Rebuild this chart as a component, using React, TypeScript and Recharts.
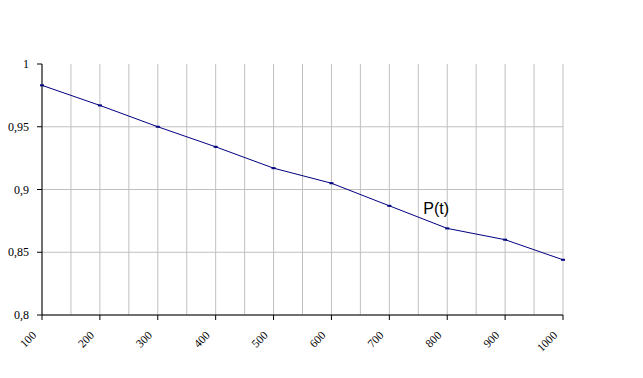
import {
  CartesianGrid,
  LabelList,
  Line,
  LineChart,
  XAxis,
  YAxis,
} from "recharts";

const times = [100, 200, 300, 400, 500, 600, 700, 800, 900, 1000];
const pValues = [0.983, 0.967, 0.95, 0.934, 0.917, 0.905, 0.887, 0.869, 0.86, 0.844];
const yTicks = [0.8, 0.85, 0.9, 0.95, 1];
const yGridTicks = [0.8, 0.85, 0.9, 0.95];
const gridTicks = [100, 150, 200, 250, 300, 350, 400, 450, 500, 550, 600, 650, 700, 750, 800, 850, 900, 950, 1000];
const seriesName = "P(t)";
const labelAt = 800;
const X_MIN = 100;
const X_MAX = 1000;
const Y_MIN = 0.8;
const Y_MAX = 1;

const data = times.map((t, i) => ({ t, p: pValues[i] }));

const SERIF = "Liberation Serif";
const NAVY = "#000080";

function XTick({ x, y, payload }: any) {
  const ax = x - 5;
  const ay = y + 14;
  return (
    <text
      x={ax}
      y={ay}
      transform={`rotate(-45, ${ax}, ${ay})`}
      textAnchor="end"
      fontFamily={SERIF}
      fontSize={11.5}
      fill="#000"
    >
      {payload.value}
    </text>
  );
}

function YTick({ x, y, payload }: any) {
  return (
    <text x={x} y={y + 4} textAnchor="end" fontFamily={SERIF} fontSize={12} fill="#000">
      {String(payload.value).replace(".", ",")}
    </text>
  );
}

function Dash({ cx, cy }: any) {
  return <rect x={cx - 2} y={cy - 1} width={4} height={2} fill={NAVY} />;
}

function NameLabel({ x, y, index }: any) {
  if (times[index] !== labelAt) return null;
  return (
    <text x={x - 24} y={y - 14} fontFamily="Liberation Sans" fontSize={16} fill="#000">
      {seriesName}
    </text>
  );
}

export default function App() {
  return (
    <div style={{ width: 643, height: 378, background: "#fff" }}>
      <style>{`body{margin:0}`}</style>
      <LineChart
        width={643}
        height={378}
        data={data}
        margin={{ top: 64, right: 80, left: 0, bottom: 0 }}
      >
        <CartesianGrid
          stroke="#c0c0c0"
          strokeWidth={1}
          verticalCoordinatesGenerator={({ offset }: any) =>
            gridTicks.map((v) => offset.left + (offset.width * (v - X_MIN)) / (X_MAX - X_MIN))
          }
          horizontalCoordinatesGenerator={({ offset }: any) =>
            yGridTicks.map((v) => offset.top + (offset.height * (Y_MAX - v)) / (Y_MAX - Y_MIN))
          }
        />
        <XAxis
          dataKey="t"
          type="number"
          domain={[X_MIN, X_MAX]}
          ticks={times}
          interval={0}
          height={63}
          stroke="#000"
          tickSize={5}
          tick={<XTick />}
        />
        <YAxis
          domain={[Y_MIN, Y_MAX]}
          ticks={yTicks}
          interval={0}
          width={42}
          stroke="#000"
          tickSize={5}
          tickMargin={8}
          tick={<YTick />}
        />
        <Line
          type="linear"
          dataKey="p"
          stroke={NAVY}
          strokeWidth={1}
          dot={<Dash />}
          activeDot={false}
          isAnimationActive={false}
        >
          <LabelList dataKey="p" content={<NameLabel />} />
        </Line>
      </LineChart>
    </div>
  );
}
